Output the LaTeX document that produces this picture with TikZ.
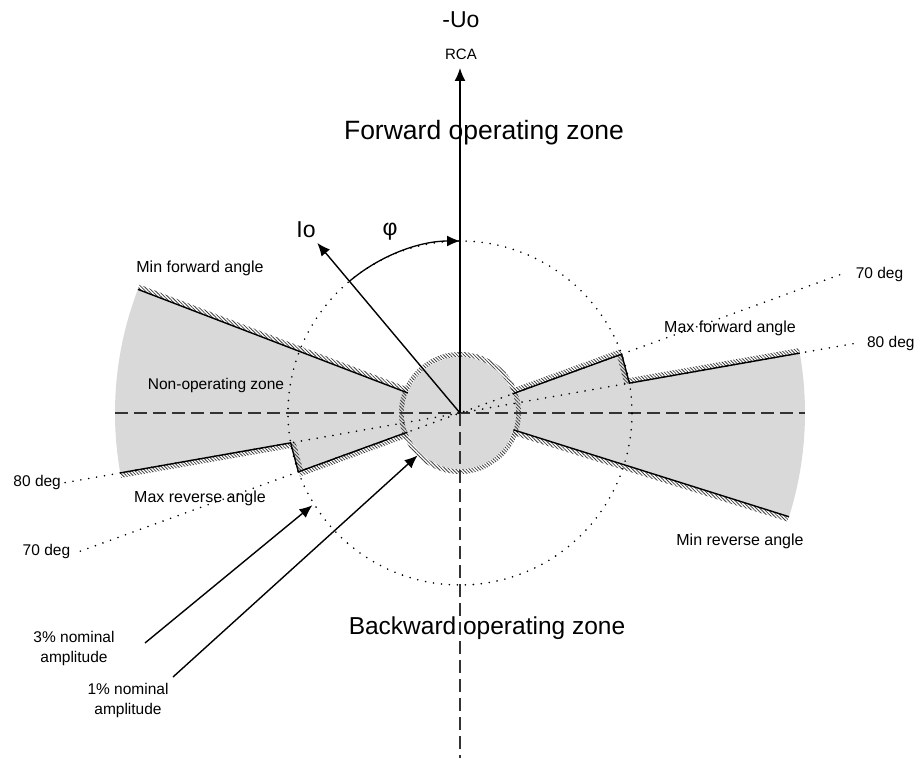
\documentclass[tikz,border=0pt]{standalone}
\usepackage{fontspec}
\setmainfont{Liberation Sans}
\usetikzlibrary{calc,arrows.meta,patterns.meta}
\definecolor{zonegray}{HTML}{D9D9D9}
\definecolor{hatchgray}{HTML}{404040}
\definecolor{axisgray}{HTML}{333333}
% thin hatched strip on the left side of the segment #1 -> #2
\newcommand{\hatchside}[2]{%
  \fill[hatch] (#1) -- (#2) -- ($(#2)!5pt!-90:(#1)$) -- ($(#1)!5pt!90:(#2)$) -- cycle;}
\begin{document}
\begin{tikzpicture}[x=1pt, y=1pt,
  zone/.style={fill=zonegray},
  hatch/.style={pattern={Lines[angle=-45,distance=2.4pt,line width=0.8pt]}, pattern color=hatchgray},
  edge/.style={line width=1.4pt, line join=miter},
  ray/.style={line width=1.8pt, dash pattern=on 0pt off 8pt, line cap=round},
  axis/.style={line width=1.6pt, dash pattern=on 13pt off 6pt, draw=axisgray},
  big/.style={font=\fontsize{23}{26}\selectfont, inner sep=0pt},
  small/.style={font=\fontsize{15.5}{20}\selectfont, align=center, inner sep=0pt},
  pointer/.style={line width=1.4pt, -{Latex[length=13pt,width=11pt]}}
]
\useasboundingbox (-460,-347) rectangle (460,413);

\coordinate (O) at (0,0);
% right wedge
\coordinate (r1) at (20:56);
\coordinate (r2) at (20:172);
\coordinate (r3) at (10:172);
\coordinate (r4) at (10:345);
\coordinate (r5) at (-17.5:345);
\coordinate (r6) at (-17.5:56);
% left wedge
\coordinate (l1) at (159:56);
\coordinate (l2) at (159:345);
\coordinate (l3) at (190:345);
\coordinate (l4) at (190:172);
\coordinate (l5) at (200:172);
\coordinate (l6) at (200:56);

\fill[zone] (O) -- (r5) arc[start angle=-17.5, end angle=10, radius=345] -- (r3) -- (r2) -- cycle;
\fill[zone] (O) -- (l2) arc[start angle=159, end angle=190, radius=345] -- (l4) -- (l5) -- cycle;

\hatchside{r1}{r2}
\hatchside{r3}{r2}
\hatchside{r3}{r4}
\hatchside{r5}{r6}
\hatchside{l2}{l1}
\hatchside{l4}{l3}
\hatchside{l4}{l5}
\hatchside{l6}{l5}

% 1% circle
\fill[hatch, even odd rule] (O) circle[radius=61] (O) circle[radius=56];
\fill[zone] (O) circle[radius=56];

% axes
\coordinate (west) at (-345,0);
\coordinate (east) at (345,0);
\coordinate (south) at (0,-345);
\coordinate (top) at (0,345);
\draw[axis] (west) -- (east);
\draw[axis] (O) -- (south);
\draw[pointer] (O) -- (top);
\node[big] (uo) at (1,393) {-Uo};
\node[small, font=\fontsize{15}{18}\selectfont] (rca) at (1,359) {RCA};

% 3% circle and angle rays
\draw[ray] (O) circle[radius=172];
\coordinate (e70l) at (200:404);
\coordinate (e70r) at (20:404);
\coordinate (e80l) at (190:401);
\coordinate (e80r) at (10:401);
\draw[ray] (e70l) -- (e70r);
\draw[ray] (e80l) -- (e80r);
\node[small, anchor=west, xshift=16pt] (t70r) at (e70r) {70 deg};
\node[small, anchor=east, xshift=-10pt] (t70l) at (e70l) {70 deg};
\node[small, anchor=west, xshift=12pt] (t80r) at (e80r) {80 deg};
\node[small, anchor=east, xshift=-4pt] (t80l) at (e80l) {80 deg};

% boundaries
\draw[edge] (r1) -- (r2) -- (r3) -- (r4);
\draw[edge] (r5) -- (r6);
\draw[edge] (l2) -- (l1);
\draw[edge] (l3) -- (l4) -- (l5) -- (l6);

% Io and angle
\coordinate (io) at (130:222);
\draw[pointer] (O) -- (io);
\node[big] (iolab) at (-154,183) {Io};
\draw[pointer, line width=1.3pt] (130:172) arc[start angle=130, end angle=90, radius=172];
\node[big] (phi) at (-70,181) {φ};

% zone labels
\node[big, font=\fontsize{26.5}{30}\selectfont] (fwd) at (24,280) {Forward operating zone};
\node[big, font=\fontsize{24.5}{28}\selectfont] (bwd) at (27,-215) {Backward operating zone};
\node[small] (nonop) at (-244,28) {Non-operating zone};
\node[small, font=\fontsize{16}{20}\selectfont] (minf) at (-260,145) {Min forward angle};
\node[small, font=\fontsize{16}{20}\selectfont] (maxf) at (270,85) {Max forward angle};
\node[small, font=\fontsize{16}{20}\selectfont] (maxr) at (-260,-85) {Max reverse angle};
\node[small, font=\fontsize{16}{20}\selectfont] (minr) at (280,-128) {Min reverse angle};

% amplitude pointers
\node[small] (n3) at (-386,-235) {3\% nominal\\amplitude};
\node[small] (n1) at (-332,-287) {1\% nominal\\amplitude};
\coordinate (a3) at (-315,-230);
\coordinate (h3) at (212:174);
\coordinate (a1) at (-287,-264);
\coordinate (h1) at (225:60);
\draw[pointer] (a3) -- (h3);
\draw[pointer] (a1) -- (h1);
\end{tikzpicture}
\end{document}
